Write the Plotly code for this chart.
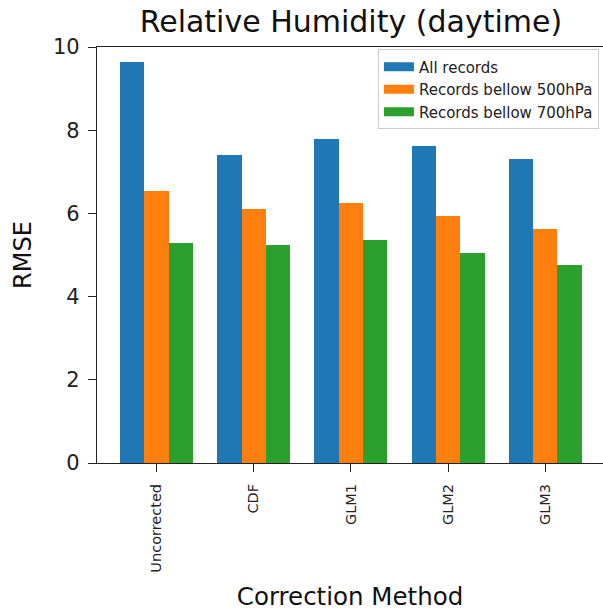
import plotly.graph_objects as go

# RMSE of relative humidity (daytime) per correction method
methods = ["Uncorrected", "CDF", "GLM1", "GLM2", "GLM3"]
all_records = [9.65, 7.40, 7.78, 7.62, 7.31]
below_500 = [6.53, 6.10, 6.24, 5.93, 5.63]
below_700 = [5.29, 5.23, 5.37, 5.06, 4.76]

series = [
    ("All records", all_records, "#1f77b4"),
    ("Records bellow 500hPa", below_500, "#ff7f0e"),
    ("Records bellow 700hPa", below_700, "#2ca02c"),
]

bar_w = 0.25
x_idx = list(range(len(methods)))

fig = go.Figure()
for i, (name, vals, color) in enumerate(series):
    offset = (i - 1) * bar_w
    fig.add_trace(go.Bar(
        x=[k + offset for k in x_idx],
        y=vals,
        width=bar_w,
        name=name,
        legendgroup=name,
        showlegend=False,
        marker=dict(color=color, line=dict(width=0)),
    ))
    # legend key drawn as a wide colour patch
    fig.add_trace(go.Scatter(
        x=[None], y=[None],
        mode="lines",
        name=name,
        legendgroup=name,
        line=dict(color=color, width=9),
        hoverinfo="skip",
    ))

font_family = "DejaVu Sans"
fig.update_layout(
    width=603,
    height=611,
    margin=dict(l=97, r=0, t=46.5, b=148),
    paper_bgcolor="white",
    plot_bgcolor="white",
    bargap=0,
    barmode="overlay",
    font=dict(family=font_family, color="#000000"),
    title=dict(
        text="Relative Humidity (daytime)",
        font=dict(size=30, family=font_family, color="#111111"),
        x=(97 + 604.8) / 2 / 603,
        xanchor="center",
        y=1 - 21 / 611,
        yanchor="middle",
    ),
    xaxis=dict(
        range=[-0.6125, -0.6125 + 506 / 97.2],
        tickmode="array",
        tickvals=x_idx,
        ticktext=methods,
        tickangle=-90,
        tickfont=dict(size=14.5, family=font_family, color="#222222"),
        ticks="outside",
        ticklen=8,
        tickwidth=1.3,
        tickcolor="#222222",
        ticklabelstandoff=6,
        showline=True,
        linecolor="#222222",
        linewidth=1.3,
        mirror=True,
        showgrid=False,
        zeroline=False,
        title=dict(text="Correction Method",
                   font=dict(size=24.5, family=font_family, color="#111111"),
                   standoff=16),
    ),
    yaxis=dict(
        range=[0, 10],
        tickvals=[0, 2, 4, 6, 8, 10],
        tickfont=dict(size=21, family=font_family, color="#222222"),
        ticks="outside",
        ticklen=8,
        tickwidth=1.3,
        tickcolor="#222222",
        ticklabelstandoff=4,
        showline=True,
        linecolor="#222222",
        linewidth=1.3,
        showgrid=False,
        zeroline=False,
        title=dict(text="RMSE",
                   font=dict(size=24, family=font_family, color="#111111"),
                   standoff=14),
    ),
    legend=dict(
        x=0.992,
        y=0.994,
        xanchor="right",
        yanchor="top",
        bgcolor="rgba(255,255,255,0.9)",
        bordercolor="#cccccc",
        borderwidth=1,
        font=dict(size=15, family=font_family, color="#222222"),
        tracegroupgap=0,
    ),
)

fig.write_html("out.html")
